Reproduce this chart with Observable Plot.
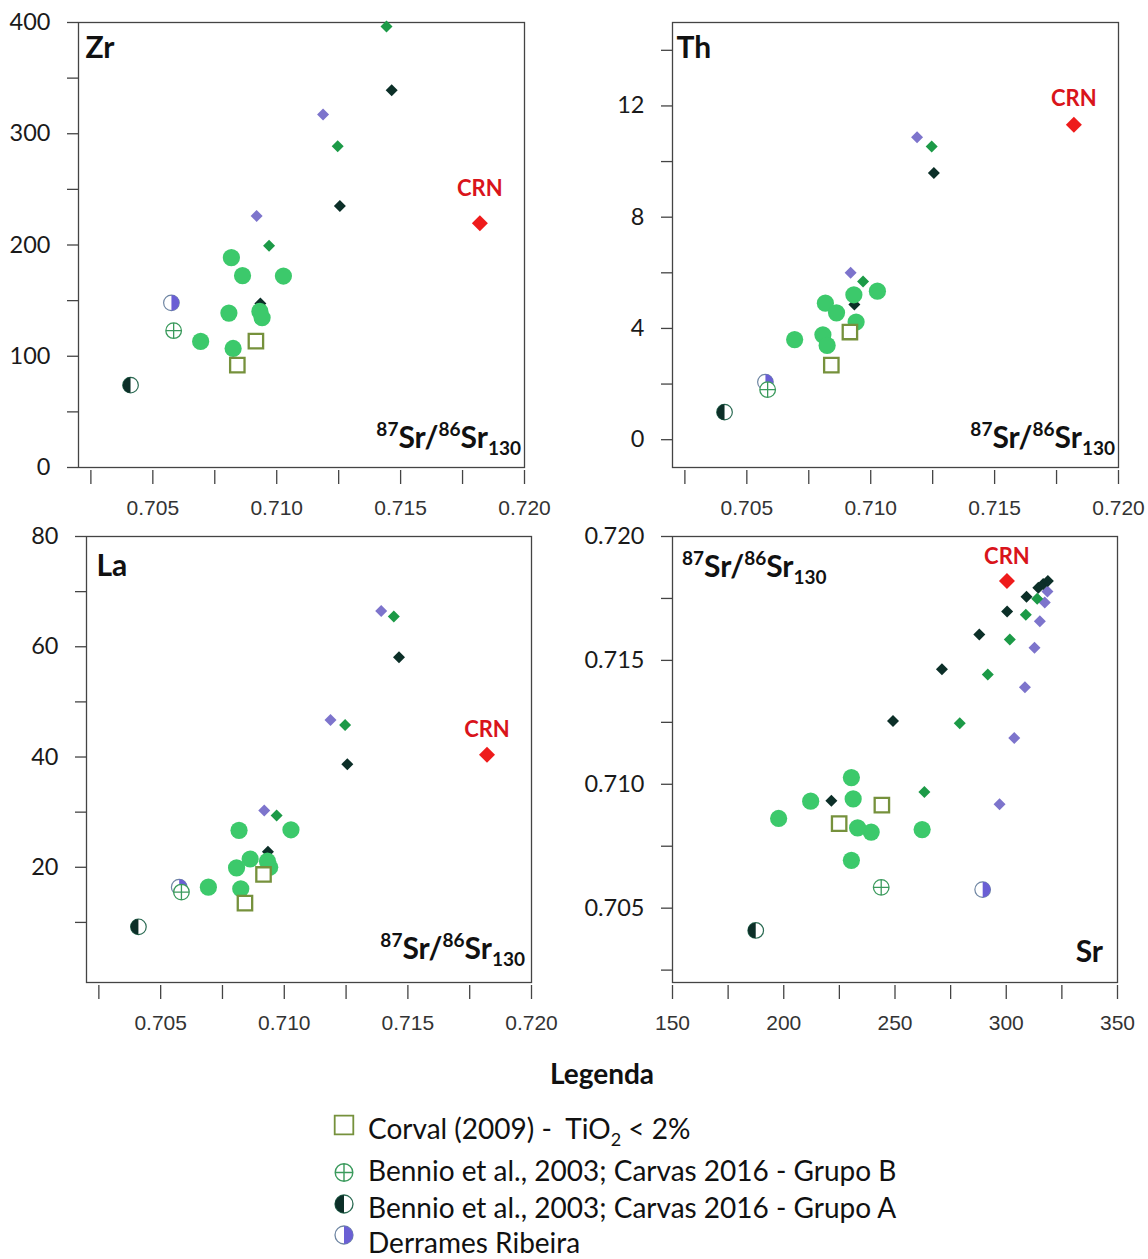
<!DOCTYPE html>
<html>
<head>
<meta charset="utf-8">
<script src="https://cdn.jsdelivr.net/npm/d3@7"></script>
<script src="https://cdn.jsdelivr.net/npm/@observablehq/plot@0.6"></script>
<style>
  body { margin: 0; background: #fff; }
  #wrap { position: relative; width: 1148px; height: 1259px; overflow: hidden; font-family: Lato, "Open Sans", sans-serif; }
  .panel { position: absolute; }
  #legend { position: absolute; left: 0; top: 1040px; }
</style>
</head>
<body>
<div id="wrap"></div>
<script>
// ---------- tick values ----------
const ratioTicks  = [0.7025, 0.705, 0.7075, 0.71, 0.7125, 0.715, 0.7175, 0.72];
const ratioLabels = [0.705, 0.71, 0.715, 0.72];
const zrTicks  = [0, 50, 100, 150, 200, 250, 300, 350, 400];
const zrLabels = [0, 100, 200, 300, 400];
const thTicks  = [0, 2, 4, 6, 8, 10, 12, 14];
const thLabels = [0, 4, 8, 12];
const laTicks  = [10, 20, 30, 40, 50, 60, 70, 80];
const laLabels = [20, 40, 60, 80];
const srTicks  = [150, 175, 200, 225, 250, 275, 300, 325, 350];
const srLabels = [150, 200, 250, 300, 350];

// ---------- samples (light green circles) ----------
const studyRatio = [0.70817, 0.70862, 0.71027, 0.70807, 0.70932, 0.70941, 0.70693, 0.70824];
const studyZr    = [188.6, 172.4, 172.1, 138.8, 140.3, 134.6, 113.3, 107.0];
const studyTh    = [4.91, 4.56, 5.34, 3.77, 5.21, 4.23, 3.60, 3.39];
const studyLa    = [26.7, 21.5, 26.8, 19.9, 21.1, 20.0, 16.4, 16.1];
const studySr    = [262.2, 197.7, 230.4, 239.3, 212.1, 231.2, 230.4, 233.2];

// ---------- Corval (2009) - TiO2 < 2% ----------
const corvalRatio = [0.70841, 0.70916];
const corvalZr    = [92.0, 113.6];
const corvalTh    = [2.68, 3.87];
const corvalLa    = [13.5, 18.7];
const corvalSr    = [224.9, 244.1];

// ---------- Bennio et al. 2003; Carvas 2016 - Grupo B ----------
const grupoBRatio = [0.70584];
const grupoBZr    = [123.0];
const grupoBTh    = [1.80];
const grupoBLa    = [15.5];
const grupoBSr    = [243.8];

// ---------- Bennio et al. 2003; Carvas 2016 - Grupo A ----------
const grupoARatio = [0.70410];
const grupoAZr    = [74.0];
const grupoATh    = [0.99];
const grupoALa    = [9.2];
const grupoASr    = [187.4];

// ---------- Derrames Ribeira ----------
const ribeiraRatio = [0.70575];
const ribeiraZr    = [148.0];
const ribeiraTh    = [2.07];
const ribeiraLa    = [16.4];
const ribeiraSr    = [289.4];

// ---------- CRN ----------
const crnName  = ["CRN"];
const crnRatio = [0.71820];
const crnZr    = [219.5];
const crnTh    = [11.32];
const crnLa    = [40.4];
const crnSr    = [300.3];

// ---------- mixing diamonds (dark / Grupo A end-member) ----------
const mixARatio = [0.70934, 0.71255, 0.71464, 0.71604, 0.71697, 0.71757, 0.71793, 0.71808, 0.71820];
const mixASr    = [221.4, 249.1, 271.1, 287.9, 300.4, 309.1, 314.4, 316.6, 318.7];
const mixAZr    = [147.5, 235.1, 339.1];
const mixATh    = [4.86, 9.59];
const mixALa    = [22.8, 38.7, 58.1];

// ---------- mixing diamonds (green / Grupo B end-member) ----------
const mixBRatio = [0.70969, 0.71246, 0.71443, 0.71584, 0.71684, 0.71749];
const mixBSr    = [263.2, 279.1, 291.7, 301.6, 308.8, 313.9];
const mixBZr    = [199.4, 288.8, 396.4];
const mixBTh    = [5.69, 10.54];
const mixBLa    = [29.4, 45.8, 65.5];

// ---------- mixing diamonds (purple / Ribeira end-member) ----------
const mixRRatio = [0.70919, 0.71187, 0.71392, 0.71551, 0.71658, 0.71734, 0.71778];
const mixRSr    = [297.0, 303.6, 308.4, 312.7, 315.1, 317.3, 318.5];
const mixRZr    = [226.1, 317.2];
const mixRTh    = [6.00, 10.87];
const mixRLa    = [30.3, 46.7, 66.5];

// ---------- tables built from the arrays ----------
const groups = {
  mixR:    {ratio: mixRRatio, Zr: mixRZr, Th: mixRTh, La: mixRLa, Sr: mixRSr},
  mixB:    {ratio: mixBRatio, Zr: mixBZr, Th: mixBTh, La: mixBLa, Sr: mixBSr},
  mixA:    {ratio: mixARatio, Zr: mixAZr, Th: mixATh, La: mixALa, Sr: mixASr},
  grupoA:  {ratio: grupoARatio, Zr: grupoAZr, Th: grupoATh, La: grupoALa, Sr: grupoASr},
  ribeira: {ratio: ribeiraRatio, Zr: ribeiraZr, Th: ribeiraTh, La: ribeiraLa, Sr: ribeiraSr},
  grupoB:  {ratio: grupoBRatio, Zr: grupoBZr, Th: grupoBTh, La: grupoBLa, Sr: grupoBSr},
  study:   {ratio: studyRatio, Zr: studyZr, Th: studyTh, La: studyLa, Sr: studySr},
  corval:  {ratio: corvalRatio, Zr: corvalZr, Th: corvalTh, La: corvalLa, Sr: corvalSr},
  crn:     {ratio: crnRatio, Zr: crnZr, Th: crnTh, La: crnLa, Sr: crnSr, name: crnName}
};

function rows(xs, ys, names) {
  const out = [];
  for (let i = 0; i < ys.length; i++) {
    if (xs[i] != null && ys[i] != null) out.push({x: xs[i], y: ys[i], name: names ? names[i] : ""});
  }
  return out;
}

// ---------- colours ----------
const C = {
  light: "#3cc96b", olive: "#76913c", green: "#1c9a47", dark: "#0c2f28",
  purple: "#7d74cc", purpleHalf: "#6a5fd4", red: "#ee1b1b", crnText: "#d9141b",
  grupoB: "#3a9a5c", grupoAEdge: "#2b6b53", ribeiraEdge: "#6f86a3", axis: "#444"
};

// ---------- custom symbols ----------
const rad = s => Math.sqrt(s / Math.PI);
const symDiamond = {draw(c, s) { const r = rad(s); c.moveTo(0, -r); c.lineTo(r, 0); c.lineTo(0, r); c.lineTo(-r, 0); c.closePath(); }};
const symSquare = {draw(c, s) { const r = rad(s); c.rect(-r, -r, 2 * r, 2 * r); }};
const symLeftHalf = {draw(c, s) { const r = rad(s); c.moveTo(0, -r); c.arc(0, 0, r, -Math.PI / 2, Math.PI / 2, true); c.closePath(); }};
const symRightHalf = {draw(c, s) { const r = rad(s); c.moveTo(0, -r); c.arc(0, 0, r, -Math.PI / 2, Math.PI / 2, false); c.closePath(); }};
const symCirclePlus = {draw(c, s) { const r = rad(s); c.moveTo(r, 0); c.arc(0, 0, r, 0, 2 * Math.PI); c.moveTo(-r, 0); c.lineTo(r, 0); c.moveTo(0, -r); c.lineTo(0, r); }};

function seriesMarks(get, crnDy) {
  const xy = {x: "x", y: "y"};
  return [
    Plot.dot(get("mixR"), {...xy, r: 6, symbol: symDiamond, fill: C.purple}),
    Plot.dot(get("mixB"), {...xy, r: 6, symbol: symDiamond, fill: C.green}),
    Plot.dot(get("mixA"), {...xy, r: 6, symbol: symDiamond, fill: C.dark}),
    Plot.dot(get("grupoA"), {...xy, r: 7.8, symbol: "circle", fill: "white", stroke: C.grupoAEdge, strokeWidth: 1.2}),
    Plot.dot(get("grupoA"), {...xy, r: 7.8, symbol: symLeftHalf, fill: C.dark}),
    Plot.dot(get("ribeira"), {...xy, r: 7.8, symbol: "circle", fill: "white", stroke: C.ribeiraEdge, strokeWidth: 1.2}),
    Plot.dot(get("ribeira"), {...xy, r: 7.8, symbol: symRightHalf, fill: C.purpleHalf}),
    Plot.dot(get("grupoB"), {...xy, r: 7.8, symbol: symCirclePlus, fill: "white", stroke: C.grupoB, strokeWidth: 1.3}),
    Plot.dot(get("study"), {...xy, r: 8.6, symbol: "circle", fill: C.light}),
    Plot.dot(get("corval"), {...xy, r: 7.2, symbol: symSquare, fill: "white", stroke: C.olive, strokeWidth: 2.3}),
    Plot.dot(get("crn"), {...xy, r: 8, symbol: symDiamond, fill: C.red}),
    Plot.text(get("crn"), {...xy, text: "name", dy: crnDy, fill: C.crnText, fontWeight: "bold", fontSize: 22, fontFamily: "Lato"})
  ];
}

function axes(xT, xL, xFmt, yT, yL, yFmt) {
  return [
    Plot.frame({stroke: C.axis, strokeWidth: 1.3}),
    Plot.axisX({ticks: xT, tickSize: 14, dy: 3, tickFormat: () => "", stroke: C.axis, strokeWidth: 1.3, label: null}),
    Plot.axisX({ticks: xL, tickSize: 0, tickPadding: 33, tickFormat: xFmt, fontSize: 21, fontFamily: "Liberation Sans, Arial, sans-serif", color: "#333", label: null}),
    Plot.axisY({ticks: yT, tickSize: 11, tickFormat: () => "", stroke: C.axis, strokeWidth: 1.3, label: null}),
    Plot.axisY({ticks: yL, tickSize: 0, tickPadding: 28, tickFormat: yFmt, fontSize: 23.5, fontFamily: "Lato, sans-serif", color: "#1a1a1a", label: null})
  ];
}

function ratioLabel(svg, x, y, anchor) {
  const t = d3.select(svg).append("text")
    .attr("x", x).attr("y", y).attr("text-anchor", anchor)
    .attr("font-family", "Lato, sans-serif").attr("font-weight", "bold")
    .attr("font-size", 30).attr("fill", "#111");
  t.append("tspan").attr("font-size", 19).attr("dy", -12).text("87");
  t.append("tspan").attr("dy", 12).text("Sr/");
  t.append("tspan").attr("font-size", 19).attr("dy", -12).text("86");
  t.append("tspan").attr("dy", 12).text("Sr");
  t.append("tspan").attr("font-size", 19).attr("dy", 7).text("130");
}

const wrap = document.getElementById("wrap");
const fmtRatio = d3.format(".3f");
const fmtInt = d3.format("d");

function makePanel(cfg) {
  const svg = Plot.plot({
    width: 574, height: 520,
    marginLeft: cfg.mL, marginRight: cfg.mR, marginTop: cfg.mT, marginBottom: cfg.mB,
    x: {domain: cfg.xDomain, label: null},
    y: {domain: cfg.yDomain, label: null},
    style: {background: "transparent", overflow: "visible", fontFamily: "Lato, sans-serif"},
    marks: [
      ...axes(cfg.xT, cfg.xL, cfg.xFmt, cfg.yT, cfg.yL, cfg.yFmt),
      Plot.text([cfg.title], {frameAnchor: "top-left", dx: cfg.tdx, dy: cfg.tdy, lineAnchor: "bottom", textAnchor: "start", fontSize: 30, fontWeight: "bold", fontFamily: "Lato, sans-serif", fill: "#111"}),
      ...seriesMarks(cfg.get, cfg.crnDy)
    ]
  });
  const div = document.createElement("div");
  div.className = "panel";
  div.style.left = cfg.left + "px";
  div.style.top = cfg.top + "px";
  div.appendChild(svg);
  wrap.appendChild(div);
  return svg;
}

const elemGet = el => key => rows(groups[key].ratio, groups[key][el], groups[key].name);
const srGet = key => rows(groups[key].Sr, groups[key].ratio, groups[key].name);

const p1 = makePanel({left: 0, top: 0, mL: 78, mR: 50, mT: 22, mB: 53,
  xDomain: [0.702, 0.720], yDomain: [0, 400], xT: ratioTicks, xL: ratioLabels, xFmt: fmtRatio,
  yT: zrTicks, yL: zrLabels, yFmt: fmtInt, title: "Zr", tdx: 7, tdy: 35, get: elemGet("Zr"), crnDy: -34});
ratioLabel(p1, 521, 448, "end");

const p2 = makePanel({left: 574, top: 0, mL: 98, mR: 30, mT: 22, mB: 53,
  xDomain: [0.702, 0.720], yDomain: [-1, 15], xT: ratioTicks, xL: ratioLabels, xFmt: fmtRatio,
  yT: thTicks, yL: thLabels, yFmt: fmtInt, title: "Th", tdx: 4, tdy: 35, get: elemGet("Th"), crnDy: -26});
ratioLabel(p2, 541, 448, "end");

const p3 = makePanel({left: 0, top: 520, mL: 86, mR: 43, mT: 16, mB: 58,
  xDomain: [0.702, 0.720], yDomain: [-0.9, 80], xT: ratioTicks, xL: ratioLabels, xFmt: fmtRatio,
  yT: laTicks, yL: laLabels, yFmt: fmtInt, title: "La", tdx: 10, tdy: 39, get: elemGet("La"), crnDy: -25});
ratioLabel(p3, 525, 439, "end");

const p4 = makePanel({left: 574, top: 520, mL: 98, mR: 31, mT: 16, mB: 58,
  xDomain: [150, 350], yDomain: [0.702, 0.720], xT: srTicks, xL: srLabels, xFmt: fmtInt,
  yT: ratioTicks, yL: ratioLabels, yFmt: fmtRatio, title: "", tdx: 0, tdy: 0, get: srGet, crnDy: -24});
ratioLabel(p4, 108, 57, "start");
d3.select(p4).append("text").attr("x", 529).attr("y", 442).attr("text-anchor", "end")
  .attr("font-family", "Lato, sans-serif").attr("font-weight", "bold").attr("font-size", 30)
  .attr("fill", "#111").text("Sr");

// ---------- legend ----------
const legendItems = [
  "Corval (2009) -  TiO|2| < 2%",
  "Bennio et al., 2003; Carvas 2016 - Grupo B",
  "Bennio et al., 2003; Carvas 2016 - Grupo A",
  "Derrames Ribeira"
];
const legendBaselines = [99, 141, 178, 213];
const legendIconY = [85, 132.5, 164, 195];

const lg = d3.select(wrap).append("svg").attr("id", "legend").attr("width", 1148).attr("height", 219);
lg.append("text").attr("x", 602).attr("y", 44).attr("text-anchor", "middle")
  .attr("font-family", "Lato, sans-serif").attr("font-weight", "bold").attr("font-size", 28)
  .attr("fill", "#111").text("Legenda");

legendItems.forEach((label, i) => {
  const t = lg.append("text").attr("x", 368).attr("y", legendBaselines[i])
    .attr("font-family", "Lato, sans-serif").attr("font-size", 28).attr("fill", "#111")
    .attr("xml:space", "preserve").style("white-space", "pre");
  const parts = label.split("|");
  if (parts.length === 3) {
    t.append("tspan").text(parts[0]);
    t.append("tspan").attr("font-size", 18).attr("dy", 7).text(parts[1]);
    t.append("tspan").attr("dy", -7).text(parts[2]);
  } else {
    t.text(label);
  }
});
const sym = (s, r) => d3.symbol(s, Math.PI * r * r)();
const ix = 344;
lg.append("path").attr("transform", `translate(${ix},${legendIconY[0]})`).attr("d", sym(symSquare, 9.3))
  .attr("fill", "white").attr("stroke", C.olive).attr("stroke-width", 1.8);
lg.append("path").attr("transform", `translate(${ix},${legendIconY[1]})`).attr("d", sym(symCirclePlus, 8.8))
  .attr("fill", "white").attr("stroke", C.grupoB).attr("stroke-width", 1.4);
lg.append("path").attr("transform", `translate(${ix},${legendIconY[2]})`).attr("d", sym(d3.symbolCircle, 9))
  .attr("fill", "white").attr("stroke", C.grupoAEdge).attr("stroke-width", 1.3);
lg.append("path").attr("transform", `translate(${ix},${legendIconY[2]})`).attr("d", sym(symLeftHalf, 9))
  .attr("fill", C.dark);
lg.append("path").attr("transform", `translate(${ix},${legendIconY[3]})`).attr("d", sym(d3.symbolCircle, 9))
  .attr("fill", "white").attr("stroke", C.ribeiraEdge).attr("stroke-width", 1.3);
lg.append("path").attr("transform", `translate(${ix},${legendIconY[3]})`).attr("d", sym(symRightHalf, 9))
  .attr("fill", C.purpleHalf);
</script>
</body>
</html>
